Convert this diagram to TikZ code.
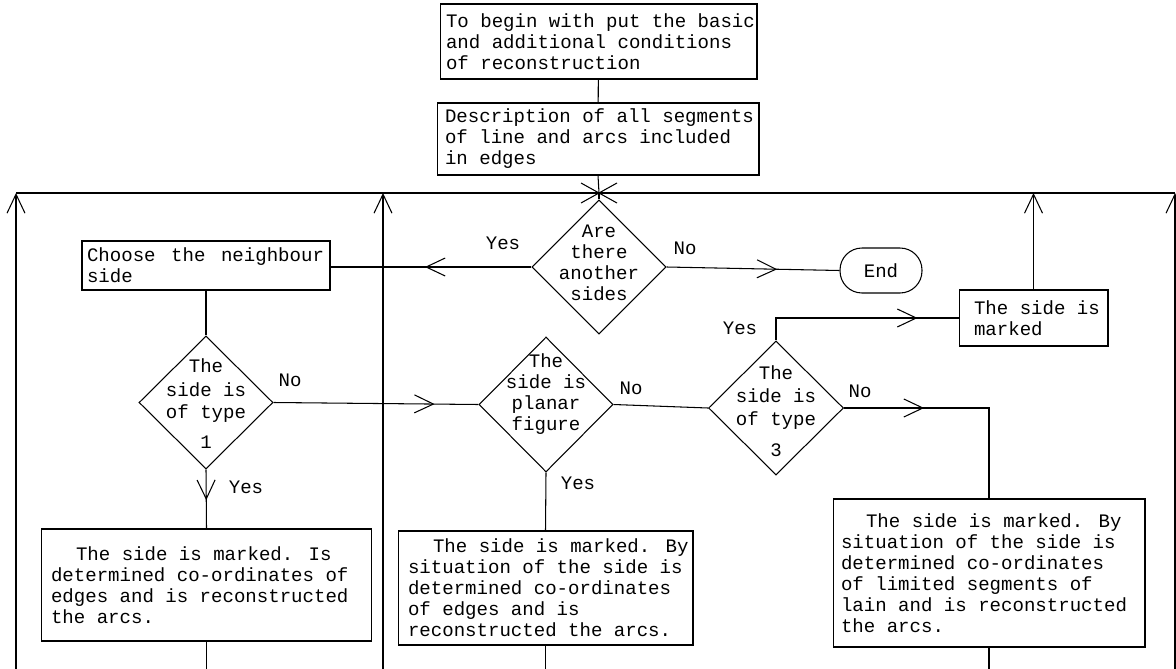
\documentclass[tikz,border=0pt]{standalone}
\usepackage{fontspec}
\setmainfont{Liberation Mono}
\usetikzlibrary{shapes.geometric,arrows.meta,decorations.markings}
\newcommand\fsz{\fontsize{10.85}{11.95}\selectfont}
\tikzset{
  every node/.style={font=\fsz},
  rect/.style={draw, rectangle, inner sep=0pt},
  txt/.style={align=left, inner sep=0pt, anchor=west},
  diam/.style={draw, diamond, inner sep=0pt},
  dtext/.style={align=center, inner sep=0pt},
  lbl/.style={inner sep=0pt},
  barb/.style={-{Straight Barb[length=0.38cm,width=0.36cm]}},
  midarrow/.style={decoration={markings, mark=at position #1 with {\arrow{Straight Barb[length=0.38cm,width=0.36cm]}}}, postaction={decorate}}
}
\begin{document}
\begin{tikzpicture}[x=0.02cm,y=-0.02cm,line width=0.6pt]
\useasboundingbox (0,0) rectangle (1176,669);
% boxes
\node[rect, minimum width=6.34cm, minimum height=1.5cm] (b1) at (598.5,41.5) {};
\node[txt] (b1t) at ([xshift=0.12cm]b1.west)
  {To begin with put the basic\\and additional conditions\\of reconstruction};
\node[rect, minimum width=6.44cm, minimum height=1.44cm] (b2) at (598,139) {};
\node[txt] (b2t) at ([xshift=0.16cm]b2.west)
  {Description of all segments\\of line and arcs included\\in edges};
\node[rect, minimum width=4.96cm, minimum height=0.98cm] (choose) at (206,265.5) {};
\node[txt] (chooset) at ([xshift=0.1cm]choose.west)
  {\makebox[4.74cm][l]{Choose\hfill the\hfill neighbour}\\side};
\node[draw, rectangle, rounded corners=0.44cm, minimum width=1.64cm, minimum height=0.9cm, inner sep=0pt] (end) at (881,270.5) {End};
\node[rect, minimum width=2.98cm, minimum height=1.12cm] (marked) at (1033.5,318) {};
\node[txt] (markedt) at ([xshift=0.3cm]marked.west) {The side is\\marked};
\node[rect, minimum width=6.62cm, minimum height=2.24cm] (bl) at (206.5,585) {};
\node[txt] (blt) at ([xshift=0.2cm]bl.west)
  {\hspace*{0.5cm}The side is marked. Is\\determined co-ordinates of\\edges and is reconstructed\\the arcs.};
\node[rect, minimum width=5.9cm, minimum height=2.28cm] (bm) at (545.5,588) {};
\node[txt] (bmt) at ([xshift=0.2cm]bm.west)
  {\hspace*{0.5cm}The side is marked. By\\situation of the side is\\determined co-ordinates\\of edges and is\\reconstructed the arcs.};
\node[rect, minimum width=6.24cm, minimum height=2.96cm] (br) at (989,573) {};
\node[txt] (brt) at ([xshift=0.16cm]br.west)
  {\hspace*{0.5cm}The side is marked. By\\situation of the side is\\determined co-ordinates\\of limited segments of\\lain and is reconstructed\\the arcs.};
% diamonds
\node[diam, minimum width=2.68cm, minimum height=2.68cm] (d1) at (599,267) {};
\node[dtext] (d1t) at (599,263) {Are\\there\\another\\sides};
\node[diam, minimum width=2.68cm, minimum height=2.66cm] (d2) at (206,402.5) {};
\node[dtext] (d2t) at (206,404) {The\\[0.06cm]side is\\[0.02cm]of type\\[0.18cm]1};
\node[diam, minimum width=2.68cm, minimum height=2.7cm] (d3) at (546,404.5) {};
\node[dtext] (d3t) at (546,394) {The\\side is\\planar\\figure};
\node[diam, minimum width=2.7cm, minimum height=2.68cm] (d4) at (776,408) {};
\node[dtext] (d4t) at (776,411) {The\\[0.04cm]side is\\[0.04cm]of type\\[0.2cm]3};
% labels
\node[lbl] (y1) at (503,243) {Yes};
\node[lbl] (n1) at (685,248) {No};
\node[lbl] (n2) at (290,380) {No};
\node[lbl] (y2) at (246,487) {Yes};
\node[lbl] (n3) at (631,388) {No};
\node[lbl] (y3) at (578,483) {Yes};
\node[lbl] (y4) at (740,328) {Yes};
\node[lbl] (n4) at (860,391) {No};
% coordinates
\coordinate (j) at (599,193);
\coordinate (topL) at (16,193);
\coordinate (topM) at (383,193);
\coordinate (topR) at (1175,193);
\coordinate (topT) at (1033.5,193);
\coordinate (botL) at (16,669);
\coordinate (botM) at (383,669);
\coordinate (botR) at (1175,669);
\coordinate (bBL) at (206.5,669);
\coordinate (bBM) at (545.5,669);
\coordinate (bBR) at (989,669);
\coordinate (s1) at (581,183);
\coordinate (s2) at (617,203);
\coordinate (s3) at (617,183);
\coordinate (s4) at (581,203);
% connectors
\draw (b1) -- (b2);
\draw (b2.south) -- (j);
\draw (topL) -- (topR);
\draw (s1) -- (s2);
\draw (s3) -- (s4);
\draw (j) -- (d1.north);
\draw[midarrow=0.53] (d1.west) -- (choose.east |- d1.west);
\draw[midarrow=0.64] (d1.east) -- (end.west);
\draw (choose.south) -- (d2.north);
\draw[midarrow=0.786] (d2.east) -- (d3.west);
\draw[midarrow=0.52] (d2.south) -- (bl.north);
\draw (d3.east) -- (d4.west);
\draw (d3.south) -- (bm.north);
\draw[midarrow=0.8] (d4.north) |- (marked.west);
\draw[midarrow=0.34] (d4.east) -| (br.north);
\draw[barb] (marked.north) -- (topT);
\draw[barb] (botL) -- (topL);
\draw[barb] (botM) -- (topM);
\draw[barb] (botR) -- (topR);
\draw (bl.south) -- (bBL);
\draw (bm.south) -- (bBM);
\draw (br.south) -- (bBR);
\end{tikzpicture}
\end{document}
